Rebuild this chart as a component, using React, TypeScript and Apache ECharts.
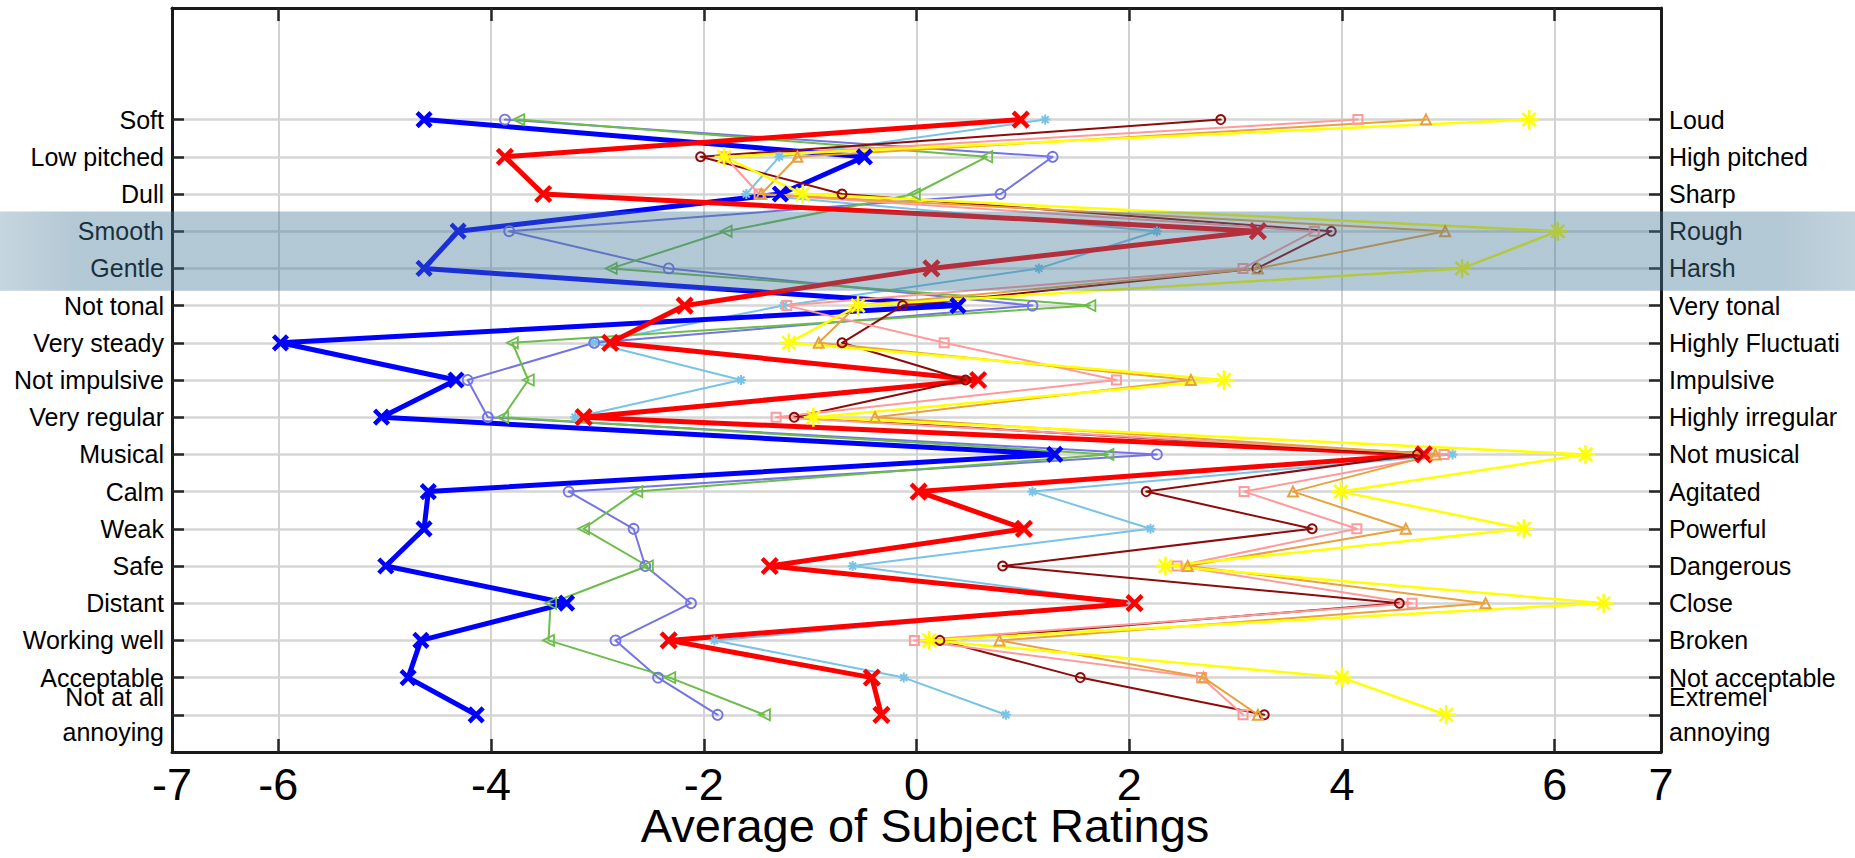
import React, { useEffect, useRef } from "react";
import * as echarts from "echarts";

// ---------- data ----------
const LEFT_LABELS = [
  "Soft", "Low pitched", "Dull", "Smooth", "Gentle", "Not tonal", "Very steady",
  "Not impulsive", "Very regular", "Musical", "Calm", "Weak", "Safe", "Distant",
  "Working well", "Acceptable", "Not at all\nannoying",
];
const RIGHT_LABELS = [
  "Loud", "High pitched", "Sharp", "Rough", "Harsh", "Very tonal", "Highly Fluctuati",
  "Impulsive", "Highly irregular", "Not musical", "Agitated", "Powerful", "Dangerous",
  "Close", "Broken", "Not acceptable", "Extremel\nannoying",
];
const X_TICKS = [-6, -4, -2, 0, 2, 4, 6];
const X_TICK_LABELS = [-7, -6, -4, -2, 0, 2, 4, 6, 7];
const X_TITLE = "Average of Subject Ratings";
const HIGHLIGHT_ROWS = [3.47, 5.6]; // band over "Smooth" / "Gentle"

const blueValues = [-4.63, -0.49, -1.28, -4.31, -4.63, 0.39, -5.98, -4.33, -5.03, 1.3, -4.59, -4.63, -4.99, -3.29, -4.66, -4.78, -4.14];
const redValues = [0.98, -3.87, -3.51, 3.21, 0.14, -2.18, -2.88, 0.58, -3.13, 4.77, 0.02, 1.01, -1.38, 2.05, -2.33, -0.42, -0.33];
const slateValues = [-3.87, 1.28, 0.79, -3.83, -2.33, 1.09, -3.03, -4.22, -4.03, 2.26, -3.27, -2.66, -2.55, -2.12, -2.83, -2.43, -1.87];
const greenValues = [-3.74, 0.66, -0.02, -1.79, -2.87, 1.63, -3.8, -3.65, -3.89, 1.8, -2.63, -3.13, -2.53, -3.44, -3.46, -2.32, -1.43];
const skyValues = [1.21, -1.29, -1.6, 2.26, 1.15, -1.25, -3.04, -1.65, -3.21, 5.04, 1.09, 2.2, -0.6, 2.02, -1.9, -0.12, 0.84];
const darkRedValues = [2.86, -2.03, -0.7, 3.9, 3.2, -0.13, -0.7, 0.46, -1.15, 4.71, 2.16, 3.72, 0.81, 4.54, 0.22, 1.54, 3.27];
const pinkValues = [4.15, -1.8, -1.48, 3.74, 3.07, -1.22, 0.26, 1.88, -1.32, 4.96, 3.08, 4.14, 2.45, 4.66, -0.02, 2.68, 3.07];
const orangeValues = [4.79, -1.12, -1.46, 4.97, 3.21, -0.56, -0.92, 2.58, -0.39, 4.88, 3.54, 4.6, 2.55, 5.35, 0.78, 2.7, 3.21];
const yellowValues = [5.76, -1.81, -1.07, 6.03, 5.13, -0.55, -1.2, 2.89, -0.97, 6.29, 3.99, 5.71, 2.34, 6.46, 0.12, 4.0, 4.98];

// ---------- marker shapes ----------
const SYM_X = "path://M0,0L10,10M10,0L0,10";
const SYM_STAR = "path://M5,0L5,10M0,5L10,5M1.5,1.5L8.5,8.5M8.5,1.5L1.5,8.5";
const SYM_TRI_LEFT = "path://M0,5L9,0L9,10Z";
const SYM_TRI_UP = "path://M5,0L10,9L0,9Z";

const FONT = "'Liberation Sans', Arial, Helvetica, sans-serif";
const ROW_IDS = LEFT_LABELS.map((_, i) => i + 1);
// one trailing empty slot so the last real label is not treated as the axis' max label
const LABEL_SLOTS = [...ROW_IDS, ROW_IDS.length + 1];

function mk(name: string, values: number[], color: string, width: number, symbol: string, size: number, border: number) {
  return {
    name,
    type: "line",
    xAxisIndex: 0,
    yAxisIndex: 0,
    data: values.map((v, i) => [v, i + 1]),
    symbol,
    symbolSize: size,
    showSymbol: true,
    showAllSymbol: true,
    lineStyle: { color, width, join: "round", cap: "round" },
    itemStyle: { color: "rgba(0,0,0,0)", borderColor: color, borderWidth: border },
    emphasis: { disabled: true },
    z: 2,
  };
}

export default function App() {
  const ref = useRef<HTMLDivElement>(null);
  useEffect(() => {
    if (!ref.current) return;
    const chart = echarts.init(ref.current, null, { renderer: "svg" });
    const axisLine = { show: true, onZero: false, lineStyle: { color: "#1a1a1a", width: 3 } };
    const tick = { show: true, inside: true, length: 12, lineStyle: { color: "#262626", width: 2.5 } };
    const yBase = { type: "value", min: -2, max: 18, inverse: true, interval: 1 };
    const yLabel = (labels: string[]) => ({
      customValues: LABEL_SLOTS, fontSize: 25, lineHeight: 35, color: "#000", fontFamily: FONT, margin: 8,
      hideOverlap: false,
      formatter: (v: number) => labels[Math.round(v) - 1] ?? "",
    });
    chart.setOption({
      animation: false,
      backgroundColor: "#ffffff",
      grid: { left: 172, right: 194, top: 8, bottom: 106, containLabel: false, outerBoundsMode: "none" },
      xAxis: [
        {
          type: "value", min: -7, max: 7, interval: 1, position: "bottom",
          axisLine,
          axisTick: { ...tick, length: 13, customValues: X_TICKS },
          axisLabel: {
            customValues: X_TICK_LABELS, fontSize: 45, lineHeight: 38, color: "#000", fontFamily: FONT,
            margin: 13.5, hideOverlap: false,
          },
          splitLine: { show: true, lineStyle: { color: "#d2d2d2", width: 2 } },
          name: X_TITLE, nameLocation: "middle", nameGap: 53.5, nameMoveOverlap: false,
          nameTextStyle: { fontSize: 47, lineHeight: 40, color: "#000", fontFamily: FONT, padding: [0, 0, 0, 17] },
        },
        {
          type: "value", min: -7, max: 7, interval: 1, position: "top",
          axisLine,
          axisTick: { ...tick, length: 13, customValues: X_TICKS },
          axisLabel: { show: false },
          splitLine: { show: false },
        },
      ],
      yAxis: [
        {
          ...yBase, position: "left",
          axisLine,
          axisTick: { ...tick, customValues: ROW_IDS },
          axisLabel: yLabel(LEFT_LABELS),
          splitLine: { show: true, lineStyle: { color: "#d6d6d6", width: 2.5 } },
        },
        {
          ...yBase, position: "right",
          axisLine,
          axisTick: { ...tick, customValues: ROW_IDS },
          axisLabel: yLabel(RIGHT_LABELS),
          splitLine: { show: false },
        },
      ],
      series: [
        mk("S3", skyValues, "#78c3e6", 2, SYM_STAR, 10, 2),
        mk("S4", slateValues, "#7474e4", 2, "circle", 10, 1.8),
        mk("S5", greenValues, "#6cbd4a", 2, SYM_TRI_LEFT, 11, 1.8),
        mk("S1", blueValues, "#0000ff", 5, SYM_X, 14, 4.5),
        mk("S2", redValues, "#ff0000", 5, SYM_X, 15, 4.5),
        mk("S6", darkRedValues, "#8e0b0b", 2, "circle", 9, 2),
        mk("S7", pinkValues, "#ff9a9a", 2, "rect", 9, 2),
        mk("S8", orangeValues, "#e9a13c", 2, SYM_TRI_UP, 10, 2),
        mk("S9", yellowValues, "#ffff00", 2.5, SYM_STAR, 19, 2.5),
      ],
    });
    const y0 = chart.convertToPixel({ yAxisIndex: 0 }, HIGHLIGHT_ROWS[0]) as number;
    const y1 = chart.convertToPixel({ yAxisIndex: 0 }, HIGHLIGHT_ROWS[1]) as number;
    const a = "rgba(66,118,150,";
    chart.setOption({
      graphic: [
        {
          type: "rect", z: 100, silent: true,
          shape: { x: 0, y: y0, width: 1855, height: y1 - y0 },
          style: {
            fill: {
              type: "linear", x: 0, y: 0, x2: 1, y2: 0,
              colorStops: [
                { offset: 0, color: a + "0.30)" },
                { offset: 0.04, color: a + "0.40)" },
                { offset: 0.96, color: a + "0.40)" },
                { offset: 1, color: a + "0.32)" },
              ],
            },
          },
        },
      ],
    });
    return () => chart.dispose();
  }, []);
  return <div ref={ref} style={{ position: "absolute", left: 0, top: 0, width: 1855, height: 858 }} />;
}
